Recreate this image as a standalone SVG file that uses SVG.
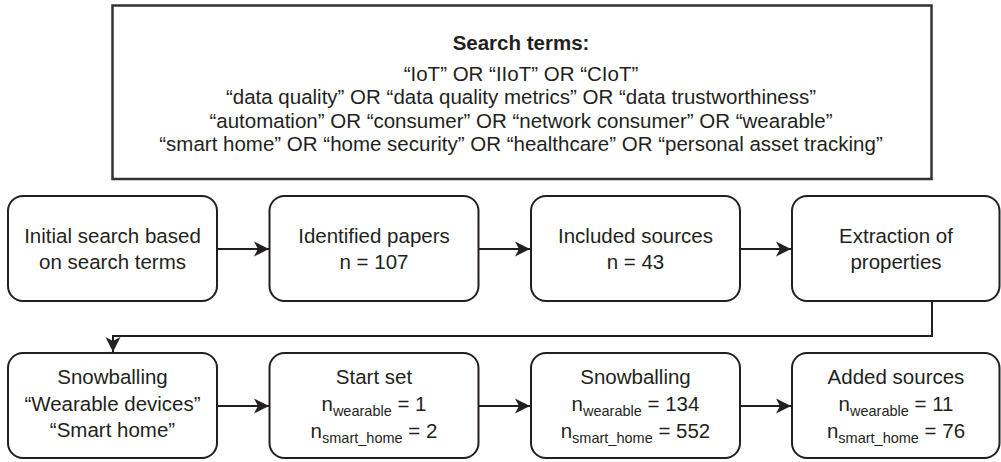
<svg xmlns="http://www.w3.org/2000/svg" width="1001" height="462" viewBox="0 0 1001 462">
<defs>
<style>
.box{fill:#fff;stroke:#231f20;stroke-width:2}
.top{fill:#fff;stroke:#333;stroke-width:2.5}
text{font-family:"Liberation Sans",Arial,sans-serif;font-size:20.5px;fill:#231f20;text-anchor:middle}
.b{font-weight:bold}
.sub{font-size:14.5px}
.conn{fill:none;stroke:#231f20;stroke-width:2}
</style>
<marker id="arr" viewBox="0 0 16 16" refX="15" refY="8" markerWidth="16" markerHeight="16" markerUnits="userSpaceOnUse" orient="auto">
<path d="M0,0.5 L15,8 L0,15.5 L4,8 Z" fill="#231f20"/>
</marker>
</defs>
<rect width="1001" height="462" fill="#fff"/>
<g id="search-terms">
<rect class="top" x="112.5" y="5.5" width="819" height="173.5"/>
<text x="521" y="50" class="b">Search terms:</text>
<text x="521" y="80.5">“IoT” OR “IIoT” OR “CIoT”</text>
<text x="521" y="104">“data quality” OR “data quality metrics” OR “data trustworthiness”</text>
<text x="521" y="127.5">“automation” OR “consumer” OR “network consumer” OR “wearable”</text>
<text x="521" y="151">“smart home” OR “home security” OR “healthcare” OR “personal asset tracking”</text>
</g>
<g id="initial-search">
<rect class="box" x="8" y="196" width="209" height="105" rx="15"/>
<text x="112.5" y="243">Initial search based</text>
<text x="112.5" y="269">on search terms</text>
</g>
<g id="identified-papers">
<rect class="box" x="269.5" y="196" width="209" height="105" rx="15"/>
<text x="374" y="243">Identified papers</text>
<text x="374" y="269">n = 107</text>
</g>
<g id="included-sources">
<rect class="box" x="531" y="196" width="209" height="105" rx="15"/>
<text x="635.5" y="243">Included sources</text>
<text x="635.5" y="269">n = 43</text>
</g>
<g id="extraction">
<rect class="box" x="792" y="196" width="207.5" height="105" rx="15"/>
<text x="896" y="243">Extraction of</text>
<text x="896" y="269">properties</text>
</g>
<g id="snowballing-topics">
<rect class="box" x="8" y="353" width="209" height="105" rx="15"/>
<text x="112.5" y="384">Snowballing</text>
<text x="112.5" y="411">“Wearable devices”</text>
<text x="112.5" y="437">“Smart home”</text>
</g>
<g id="start-set">
<rect class="box" x="269.5" y="353" width="209" height="105" rx="15"/>
<text x="374" y="384">Start set</text>
<text x="374" y="411">n<tspan class="sub" dy="5">wearable</tspan><tspan dy="-5"> = 1</tspan></text>
<text x="374" y="438">n<tspan class="sub" dy="5">smart_home</tspan><tspan dy="-5"> = 2</tspan></text>
</g>
<g id="snowballing">
<rect class="box" x="531" y="353" width="209" height="105" rx="15"/>
<text x="635.5" y="384">Snowballing</text>
<text x="635.5" y="411">n<tspan class="sub" dy="5">wearable</tspan><tspan dy="-5"> = 134</tspan></text>
<text x="635.5" y="438">n<tspan class="sub" dy="5">smart_home</tspan><tspan dy="-5"> = 552</tspan></text>
</g>
<g id="added-sources">
<rect class="box" x="792" y="353" width="207.5" height="105" rx="15"/>
<text x="896" y="384">Added sources</text>
<text x="896" y="411">n<tspan class="sub" dy="5">wearable</tspan><tspan dy="-5"> = 11</tspan></text>
<text x="896" y="438">n<tspan class="sub" dy="5">smart_home</tspan><tspan dy="-5"> = 76</tspan></text>
</g>
<g id="connectors">
<path class="conn" d="M217,249 L269,249" marker-end="url(#arr)"/>
<path class="conn" d="M478.5,249 L530,249" marker-end="url(#arr)"/>
<path class="conn" d="M740,249 L791,249" marker-end="url(#arr)"/>
<path class="conn" d="M932,301 L932,336 L113,336 L113,352" marker-end="url(#arr)"/>
<path class="conn" d="M217,406 L269,406" marker-end="url(#arr)"/>
<path class="conn" d="M478.5,406 L530,406" marker-end="url(#arr)"/>
<path class="conn" d="M740,406 L791,406" marker-end="url(#arr)"/>
</g>
</svg>
